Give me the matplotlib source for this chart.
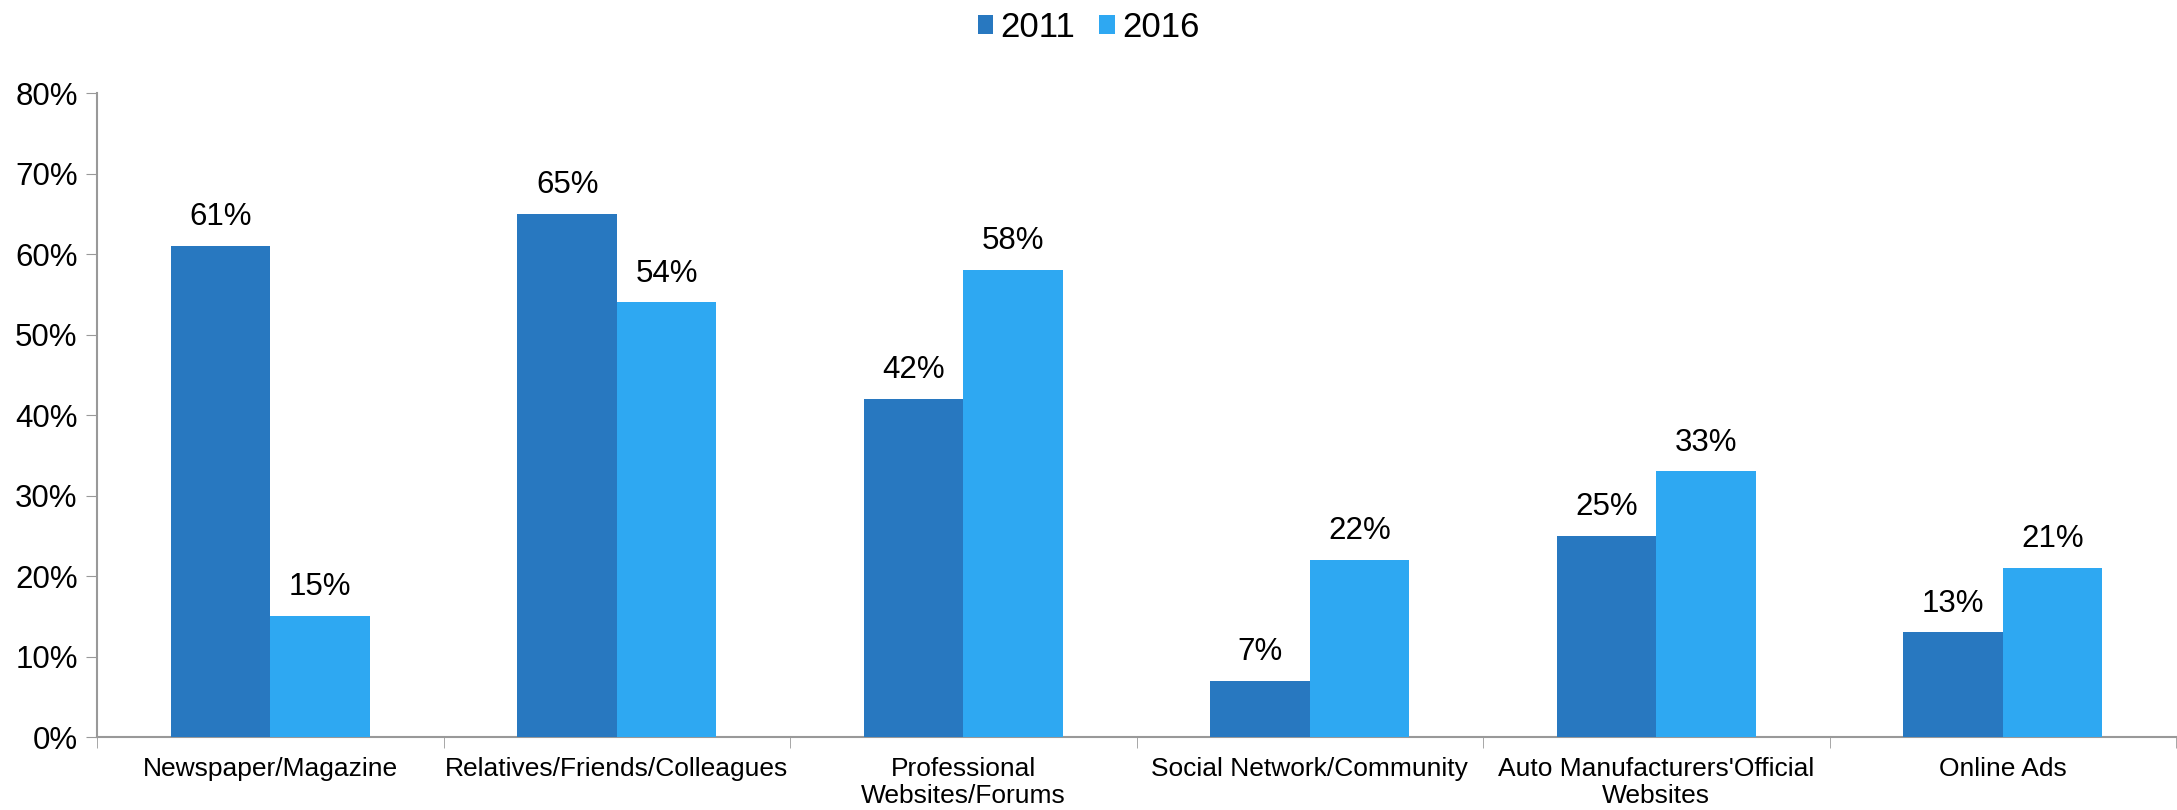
import matplotlib.pyplot as plt
import numpy as np

plt.rcParams['font.family'] = ['Liberation Sans', 'DejaVu Sans']

categories = ["Newspaper/Magazine", "Relatives/Friends/Colleagues",
              "Professional\nWebsites/Forums", "Social Network/Community",
              "Auto Manufacturers'Official\nWebsites", "Online Ads"]
years = ["2011", "2016"]
share_2011 = [61, 65, 42, 7, 25, 13]
share_2016 = [15, 54, 58, 22, 33, 21]
colors = ["#2878c0", "#2ea8f2"]

fig = plt.figure(figsize=(21.77, 8.1), dpi=100)
ax = fig.add_axes([0.0446, 0.09, 0.955, 0.795])

x = np.arange(len(categories))
w = 0.287
b1 = ax.bar(x - w / 2, share_2011, w, color=colors[0], label=years[0], zorder=3)
b2 = ax.bar(x + w / 2, share_2016, w, color=colors[1], label=years[1], zorder=3)
for bars in (b1, b2):
    ax.bar_label(bars, labels=[f"{v}%" for v in bars.datavalues], padding=10,
                 fontsize=22.5)

ax.set_xlim(-0.5, len(categories) - 0.5)
ax.set_ylim(0, 80)
ax.set_yticks(range(0, 81, 10))
ax.set_yticklabels([f"{v}%" for v in range(0, 81, 10)], fontsize=22.5)
ax.set_xticks(x)
ax.set_xticklabels(categories, fontsize=19, va="top", linespacing=1.2)
ax.set_xticks(np.arange(-0.5, len(categories)), minor=True)
ax.tick_params(axis="x", which="major", length=0, pad=14)
ax.tick_params(axis="x", which="minor", length=8, color="#999999")
ax.tick_params(axis="y", length=8, color="#999999", pad=6)

for s in ("top", "right"):
    ax.spines[s].set_visible(False)
for s in ("left", "bottom"):
    ax.spines[s].set_color("#999999")
    ax.spines[s].set_linewidth(1.5)

fig.legend(loc="upper center", bbox_to_anchor=(0.5, 1.025), ncol=2, frameon=False,
           fontsize=25, handlelength=0.45, handleheight=0.45, handletextpad=0.2,
           columnspacing=0.7)

fig.savefig("out.png", dpi=100)
